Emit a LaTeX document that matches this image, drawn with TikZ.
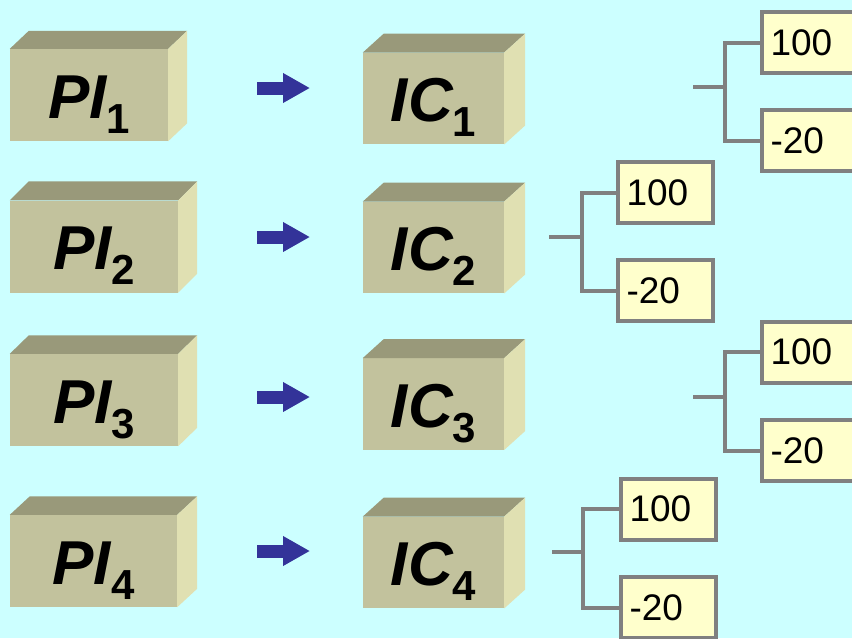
\documentclass[tikz,border=0pt]{standalone}
\usepackage{fontspec}
\setmainfont{Liberation Sans}
\usetikzlibrary{arrows.meta,calc}
\definecolor{bgc}{HTML}{CCFFFF}
\definecolor{frontc}{HTML}{C2C29D}
\definecolor{topc}{HTML}{99997A}
\definecolor{sidec}{HTML}{E0E0B2}
\definecolor{arrc}{HTML}{333399}
\definecolor{valc}{HTML}{FFFFCC}
\definecolor{treec}{HTML}{808080}
\newcommand{\blocklabel}[2]{{\fontsize{62pt}{62pt}\selectfont\bfseries\itshape #1}\raisebox{-15pt}{\fontsize{42pt}{42pt}\selectfont\bfseries #2}}
\tikzset{
  front/.style={fill=frontc, inner sep=0pt, text height=46pt, text depth=0pt},
  pibox/.style={front, minimum width=#1, minimum height=92pt},
  icbox/.style={front, minimum width=141pt, minimum height=91.5pt},
  valbox/.style={draw=treec, line width=4pt, fill=valc, anchor=west, minimum height=61pt,
    text width=78pt, inner xsep=8.5pt, align=left, font=\fontsize{37pt}{37pt}\selectfont},
  tree/.style={draw=treec, line width=4pt, line join=miter},
  fwd/.style={draw=arrc, line width=13pt, -{Triangle[length=27pt,width=28pt]}}
}
\newcommand{\depthfaces}[2]{%
  \fill[topc] (#1.north west) -- ++#2 -- ($(#1.north east)+#2$) -- (#1.north east) -- cycle;
  \fill[sidec] (#1.north east) -- ++#2 -- ($(#1.south east)+#2$) -- (#1.south east) -- cycle;}
\begin{document}
\begin{tikzpicture}[x=1pt,y=-1pt]
\useasboundingbox (0,0) rectangle (852,638);
\fill[bgc] (0,0) rectangle (852,638);
\clip (0,0) rectangle (852,638);
% PI boxes
\node[pibox=158pt] (pi1) at (89,95) {\blocklabel{PI}{1}};
\node[pibox=168pt] (pi2) at (94,246.5) {\blocklabel{PI}{2}};
\node[pibox=168pt] (pi3) at (94,400) {\blocklabel{PI}{3}};
\node[pibox=167pt] (pi4) at (93.5,561) {\blocklabel{PI}{4}};
\depthfaces{pi1}{(19,-18)}
\depthfaces{pi2}{(19,-19)}
\depthfaces{pi3}{(19,-18.5)}
\depthfaces{pi4}{(20,-18.5)}
% IC boxes
\node[icbox] (ic1) at (433.5,98.5) {\blocklabel{IC}{1}};
\node[icbox] (ic2) at (433.5,247.5) {\blocklabel{IC}{2}};
\node[icbox] (ic3) at (433.5,404) {\blocklabel{IC}{3}};
\node[icbox] (ic4) at (433.5,562.5) {\blocklabel{IC}{4}};
\depthfaces{ic1}{(21,-19)}
\depthfaces{ic2}{(21,-19)}
\depthfaces{ic3}{(21,-19)}
\depthfaces{ic4}{(21,-19)}
% arrows
\coordinate (s1) at (257,88);  \coordinate (e1) at (310,88);
\coordinate (s2) at (257,237); \coordinate (e2) at (310,237);
\coordinate (s3) at (257,397); \coordinate (e3) at (310,397);
\coordinate (s4) at (257,551); \coordinate (e4) at (310,551);
\draw[fwd] (s1) -- (e1);
\draw[fwd] (s2) -- (e2);
\draw[fwd] (s3) -- (e3);
\draw[fwd] (s4) -- (e4);
% value boxes
\node[valbox] (a1) at (760,42.5) {100};
\node[valbox] (b1) at (760,140.5) {-20};
\node[valbox] (a2) at (616,192.5) {100};
\node[valbox] (b2) at (616,290.5) {-20};
\node[valbox] (a3) at (760,352) {100};
\node[valbox] (b3) at (760,450.5) {-20};
\node[valbox] (a4) at (619,509) {100};
\node[valbox] (b4) at (619,607.5) {-20};
% trees
\coordinate (t1) at (693,87);  \coordinate (j1) at (725,87);
\coordinate (t2) at (549,237); \coordinate (j2) at (582,237);
\coordinate (t3) at (693,397); \coordinate (j3) at (725,397);
\coordinate (t4) at (552,552); \coordinate (j4) at (583,552);
\foreach \i in {1,2,3,4}{
  \draw[tree] (t\i) -- (j\i);
  \draw[tree] (j\i) |- (a\i.west);
  \draw[tree] (j\i) |- (b\i.west);
}
\end{tikzpicture}
\end{document}
